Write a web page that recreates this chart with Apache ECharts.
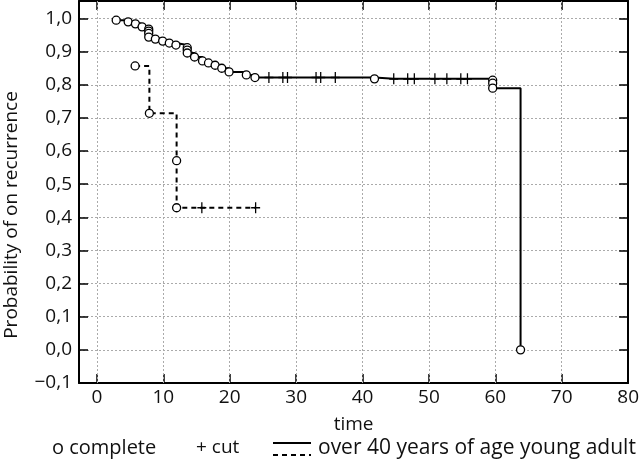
<!DOCTYPE html>
<html>
<head>
<meta charset="utf-8">
<script src="https://cdn.jsdelivr.net/npm/echarts@6/dist/echarts.min.js"></script>
<style>
  html, body { margin: 0; background: #fff; }
  #chart { width: 642px; height: 469px; }
</style>
</head>
<body>
<div id="chart"></div>
<script>
const xTicks = [0, 10, 20, 30, 40, 50, 60, 70, 80]
const yTicks = [-0.1, 0, 0.1, 0.2, 0.3, 0.4, 0.5, 0.6, 0.7, 0.8, 0.9, 1.0]

// over 40 years of age - complete events
const overTime = [2.9, 4.7, 5.8, 6.8, 7.8, 7.8, 7.8, 7.8, 8.8, 9.9, 10.9, 11.9,
  13.6, 13.6, 13.6, 14.7, 15.9, 16.8, 17.8, 18.8, 19.9, 22.5, 23.8, 41.8,
  59.6, 59.6, 59.6, 63.8]
const overProb = [0.995, 0.990, 0.984, 0.975, 0.968, 0.962, 0.955, 0.944, 0.938, 0.932, 0.926, 0.920,
  0.912, 0.905, 0.896, 0.884, 0.872, 0.866, 0.859, 0.850, 0.839, 0.830, 0.822, 0.818,
  0.814, 0.805, 0.790, 0.0]
// over 40 years of age - cut (censored)
const overCutTime = [25.9, 28.0, 28.7, 33.0, 33.7, 35.9, 44.7, 46.8, 47.8, 50.9, 52.7, 54.8, 55.8]
const overCutProb = [0.822, 0.822, 0.822, 0.822, 0.822, 0.822, 0.818, 0.818, 0.818, 0.818, 0.818, 0.818, 0.818]

// young adult - complete events
const youngTime = [5.75, 7.9, 12.0, 12.0]
const youngProb = [0.857, 0.714, 0.571, 0.429]
// young adult - cut (censored)
const youngCutTime = [15.8, 23.9]
const youngCutProb = [0.429, 0.429]

const pairs = (xs, ys) => xs.map((x, i) => [x, ys[i]])
const stepData = (t, p, ct, cp) =>
  pairs(t, p).concat(pairs(ct, cp)).sort((a, b) => a[0] - b[0] || b[1] - a[1])

const font = "'Open Sans', 'Noto Sans', sans-serif"
const yFmt = (v) => (v < -1e-9 ? '\u2212' : '') + Math.abs(v).toFixed(1).replace('.', ',')
const gridLine = { color: '#aaa', type: [2, 2], width: 1 }
const frame = { color: '#000', width: 2 }
const tick = { show: true, inside: true, length: 9, lineStyle: { color: '#000', width: 1.5 } }

const chart = echarts.init(document.getElementById('chart'))

const circle = {
  type: 'scatter',
  symbol: 'circle',
  symbolSize: 8,
  itemStyle: { color: '#fff', borderColor: '#000', borderWidth: 1.3, opacity: 1 },
  z: 5,
}
const cross = {
  type: 'scatter',
  symbol: 'path://M5 0V12M0 6H10',
  symbolSize: [9, 11],
  itemStyle: { color: 'none', borderColor: '#000', borderWidth: 1.4, opacity: 1 },
  z: 4,
}

chart.setOption({
  animation: false,
  textStyle: { fontFamily: font },
  grid: { left: 79, right: 9, top: 1, bottom: 86 },
  xAxis: [
    {
      type: 'value',
      min: -2.7,
      max: 80,
      position: 'bottom',
      axisLine: { onZero: false, lineStyle: frame },
      axisTick: Object.assign({ customValues: xTicks }, tick),
      axisLabel: { customValues: xTicks, color: '#111', fontSize: 19, margin: 5 },
      splitLine: { show: false },
      name: 'time',
      nameLocation: 'middle',
      nameGap: 32,
      nameTextStyle: { color: '#111', fontSize: 19 },
    },
    {
      type: 'value',
      min: -2.7,
      max: 80,
      position: 'top',
      axisLine: { onZero: false, lineStyle: frame },
      axisTick: Object.assign({ customValues: xTicks }, tick),
      axisLabel: { show: false },
      splitLine: { show: false },
    },
  ],
  yAxis: [
    {
      type: 'value',
      min: -0.1,
      max: 1.053,
      interval: 0.1,
      position: 'left',
      axisLine: { show: true, onZero: false, lineStyle: frame },
      axisTick: tick,
      axisLabel: { color: '#111', fontSize: 19, margin: 7, formatter: yFmt, showMaxLabel: false },
      splitLine: { show: true, lineStyle: gridLine },
    },
    {
      type: 'value',
      min: -0.1,
      max: 1.053,
      interval: 0.1,
      position: 'right',
      axisLine: { show: true, onZero: false, lineStyle: frame },
      axisTick: tick,
      axisLabel: { show: false },
      splitLine: { show: false },
    },
  ],
  graphic: [
    {
      type: 'text', x: 12, y: 215, rotation: Math.PI / 2,
      style: { text: 'Probability of on recurrence', font: '19px ' + font, fill: '#111', align: 'center', verticalAlign: 'middle' },
    },
    {
      type: 'text', x: 52, y: 448,
      style: { text: 'o complete', font: '20px ' + font, fill: '#111', verticalAlign: 'middle' },
    },
    {
      type: 'text', x: 196, y: 448,
      style: { text: '+ cut', font: '19px ' + font, fill: '#111', verticalAlign: 'middle' },
    },
    {
      type: 'line', shape: { x1: 273, y1: 443, x2: 311, y2: 443 },
      style: { stroke: '#000', lineWidth: 2 },
    },
    {
      type: 'line', shape: { x1: 273, y1: 455, x2: 311, y2: 455 },
      style: { stroke: '#000', lineWidth: 2, lineDash: [5, 4] },
    },
    {
      type: 'text', x: 318, y: 448,
      style: { text: 'over 40 years of age young adult', font: '21px ' + font, fill: '#111', verticalAlign: 'middle' },
    },
  ],
  series: [
    {
      name: 'over 40 years of age',
      type: 'line',
      step: 'end',
      showSymbol: false,
      lineStyle: { color: '#000', width: 2 },
      data: stepData(overTime, overProb, overCutTime, overCutProb),
      markLine: {
        silent: true,
        symbol: 'none',
        label: { show: false },
        lineStyle: gridLine,
        z: 1,
        data: xTicks.slice(0, -1).map((x) => ({ xAxis: x })),
      },
    },
    {
      name: 'young adult',
      type: 'line',
      step: 'end',
      showSymbol: false,
      lineStyle: { color: '#000', width: 2, type: [5, 4] },
      data: stepData(youngTime, youngProb, youngCutTime, youngCutProb),
    },
    Object.assign({ name: 'over complete', data: pairs(overTime, overProb) }, circle),
    Object.assign({ name: 'young complete', data: pairs(youngTime, youngProb) }, circle),
    Object.assign({ name: 'over cut', data: pairs(overCutTime, overCutProb) }, cross),
    Object.assign({ name: 'young cut', data: pairs(youngCutTime, youngCutProb) }, cross),
  ],
})
</script>
</body>
</html>
